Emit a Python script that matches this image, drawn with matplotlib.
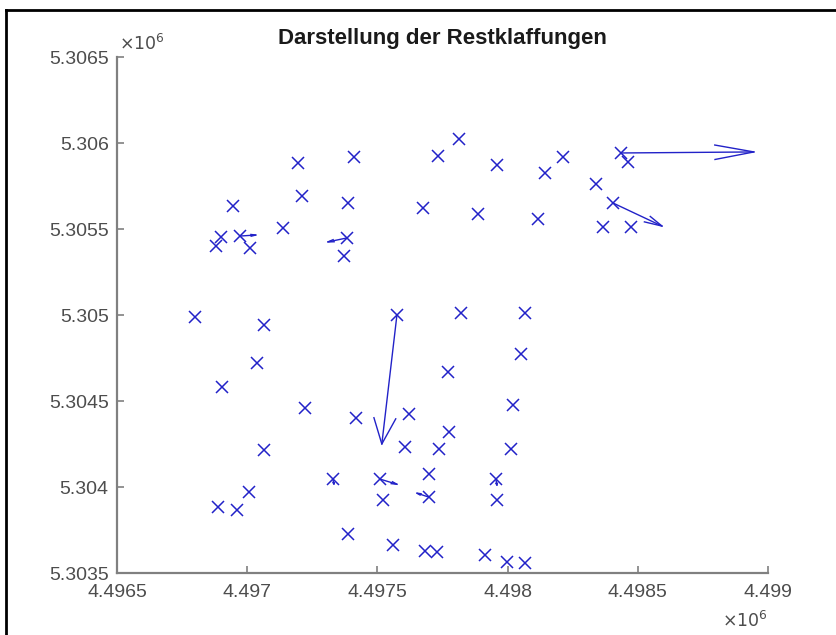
import numpy as np
import matplotlib
matplotlib.use('Agg')
import matplotlib.pyplot as plt
from matplotlib.lines import Line2D

plt.rcParams['font.family'] = ['Liberation Sans', 'DejaVu Sans']

title = "Darstellung der Restklaffungen"

# Point coordinates (Rechtswert / Hochwert)
x_pts = [4497195, 4497410, 4497210, 4497387, 4496945, 4497137, 4496899, 4496880,
         4496972, 4497011, 4497383, 4497372, 4497733, 4497813, 4497959, 4498144,
         4498213, 4498435, 4498462, 4498339, 4498405, 4498366, 4498474, 4497675,
         4497886, 4498117,
         4496800, 4497575, 4497821, 4498067, 4497064, 4498051, 4497038, 4497771,
         4496903, 4498021, 4497222, 4497418, 4497621, 4497606, 4497775, 4497064,
         4497736, 4498013,
         4497329, 4497510, 4497698, 4497955, 4497521, 4497698, 4497959, 4497007,
         4496888, 4496961, 4497387, 4497560, 4497683, 4497729, 4497913, 4497998,
         4498067]
y_pts = [5305884, 5305918, 5305692, 5305651, 5305634, 5305506, 5305453, 5305401,
         5305459, 5305389, 5305448, 5305343, 5305924, 5306023, 5305872, 5305825,
         5305918, 5305942, 5305890, 5305761, 5305651, 5305511, 5305511, 5305623,
         5305587, 5305558,
         5304988, 5305000, 5305012, 5305012, 5304942, 5304773, 5304721, 5304668,
         5304582, 5304477, 5304459, 5304401, 5304425, 5304233, 5304320, 5304215,
         5304221, 5304221,
         5304046, 5304046, 5304076, 5304046, 5303924, 5303941, 5303924, 5303971,
         5303883, 5303866, 5303726, 5303663, 5303627, 5303622, 5303605, 5303564,
         5303558]

# Residual vectors (base point + components, data units)
arrow_x = [4498435, 4498405, 4496972, 4497383, 4497575, 4497329, 4497510, 4497955, 4497698]
arrow_y = [5305942, 5305651, 5305459, 5305448, 5305000, 5304046, 5304046, 5304046, 5303941]
arrow_u = [511, 188, 61, -73, -58, 4, 65, 4, -46]
arrow_v = [6, -134, 6, -23, -750, -29, -30, -35, 23]

x_ticks = [4496500, 4497000, 4497500, 4498000, 4498500, 4499000]
y_ticks = [5303500, 5304000, 5304500, 5305000, 5305500, 5306000, 5306500]
x_labels = ['4.4965', '4.497', '4.4975', '4.498', '4.4985', '4.499']
y_labels = ['5.3035', '5.304', '5.3045', '5.305', '5.3055', '5.306', '5.3065']

W, H = 836, 635
fig = plt.figure(figsize=(W / 100, H / 100), dpi=100)
ax = fig.add_axes([117 / W, 1 - 573 / H, (768 - 117) / W, (573 - 57) / H])

blue = '#2222c8'
ax.plot(x_pts, y_pts, 'x', color=blue, markersize=8, markeredgewidth=1.1)

for x0, y0, u, v in zip(arrow_x, arrow_y, arrow_u, arrow_v):
    L = np.hypot(u, v)
    dx, dy = u / L, v / L
    px, py = -dy, dx
    tx, ty = x0 + u, y0 + v
    hl = min(0.3 * L, 150)
    hw = 0.28 * hl
    bx, by = tx - hl * dx, ty - hl * dy
    ax.plot([x0, tx], [y0, ty], color=blue, lw=1.0)
    ax.plot([bx + hw * px, tx, bx - hw * px], [by + hw * py, ty, by - hw * py],
            color=blue, lw=1.0)

ax.set_xlim(x_ticks[0], x_ticks[-1])
ax.set_ylim(y_ticks[0], y_ticks[-1])
ax.set_xticks(x_ticks)
ax.set_xticklabels(x_labels)
ax.set_yticks(y_ticks)
ax.set_yticklabels(y_labels)

axcol = '#808080'
txtcol = '#4d4d4d'
for s in ['top', 'right']:
    ax.spines[s].set_visible(False)
for s in ['left', 'bottom']:
    ax.spines[s].set_color(axcol)
    ax.spines[s].set_linewidth(1.6)
ax.tick_params(direction='in', length=5, width=1.2, color=axcol,
               labelcolor=txtcol, labelsize=14)
ax.tick_params(axis='y', pad=6)
ax.tick_params(axis='x', pad=8)

ax.set_title(title, fontsize=16, fontweight='bold', color='#1a1a1a', pad=9.5)

ax.text(0.003, 1.0136, r'$\times10^6$', transform=ax.transAxes, fontsize=12.5,
        color=txtcol, ha='left', va='baseline')
ax.text(1.0, -0.072, r'$\times10^6$', transform=ax.transAxes, fontsize=12.5,
        color=txtcol, ha='right', va='top')

# outer frame (left and top edges visible)
fig.add_artist(Line2D([6 / W, 6 / W], [0, 1 - 10 / H], transform=fig.transFigure,
                      color='black', lw=2))
fig.add_artist(Line2D([6 / W, 1], [1 - 10 / H, 1 - 10 / H], transform=fig.transFigure,
                      color='black', lw=2))

fig.savefig('out.png', dpi=100)
